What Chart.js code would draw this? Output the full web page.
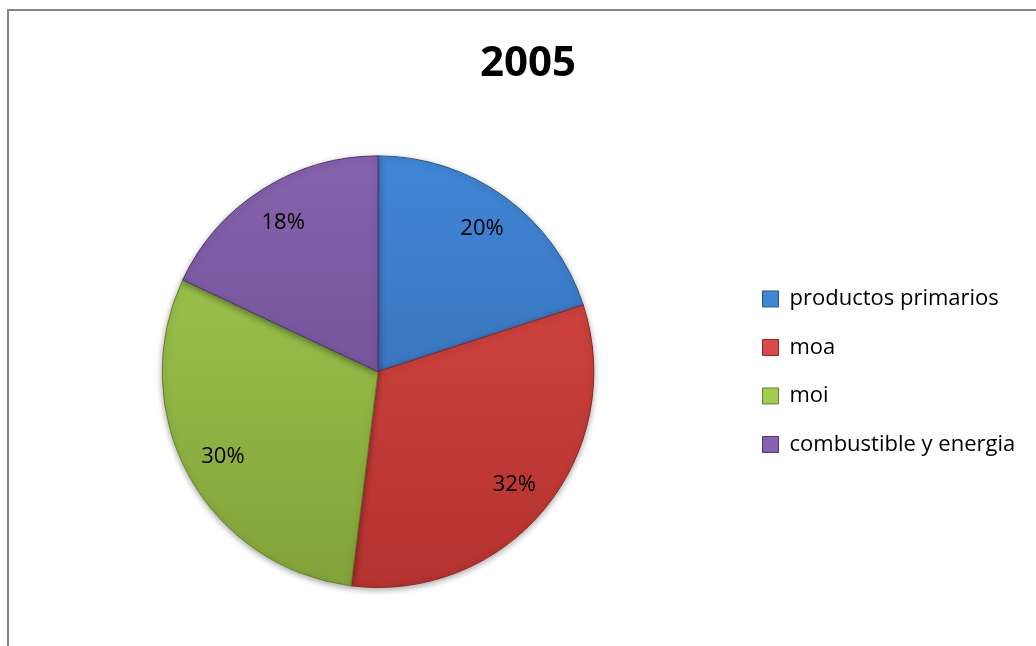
<!DOCTYPE html>
<html>
<head>
<meta charset="utf-8">
<script src="https://cdn.jsdelivr.net/npm/chart.js@4.4.1/dist/chart.umd.min.js"></script>
<style>
   html, body { margin: 0; padding: 0; background: #fff; }
   #frame {
      position: absolute; left: 0; top: 0; width: 1036px; height: 646px;
   }
   #frame:before {
      content: ""; position: absolute; left: 7px; top: 9px; right: 0; bottom: 0;
      border-left: 2px solid #868686; border-top: 2px solid #868686;
   }
   canvas { position: absolute; left: 0; top: 0; }
</style>
</head>
<body>
<div id="frame"><canvas id="pieChart" width="1036" height="646"></canvas></div>
<script>
const chartTitle = "2005";
const categories = ["productos primarios", "moa", "moi", "combustible y energia"];
const shares = [20, 32, 30, 18];

// light top / dark bottom, like the office bevel look
const lightColors = ["#4186d6", "#da4a46", "#a3cb52", "#8663ae"];
const darkColors = ["#3366a8", "#b3322f", "#82a23a", "#654688"];
const edgeColors = ["#2a5488", "#8c2724", "#66802c", "#4d3569"];

function sliceFill(context) {
   const chart = context.chart;
   const area = chart.chartArea;
   const i = context.dataIndex;
   if (!area) return lightColors[i];
   const g = chart.ctx.createLinearGradient(0, area.top, 0, area.bottom);
   g.addColorStop(0, lightColors[i]);
   g.addColorStop(1, darkColors[i]);
   return g;
}

// keep the legend column wide so the pie sits left of centre
const legendWidth = {
   id: "legendWidth",
   beforeUpdate(chart) {
      const lg = chart.legend;
      if (lg && !lg._wide) {
         const fit = lg.fit.bind(lg);
         lg.fit = function () {
            fit();
            this.width = 300;
         };
         lg._wide = true;
      }
   }
};

// soft shadow under the pie
const pieShadow = {
   id: "pieShadow",
   beforeDatasetsDraw(chart) {
      const ctx = chart.ctx;
      ctx.save();
      ctx.shadowColor = "rgba(0,0,0,0.35)";
      ctx.shadowBlur = 6;
      ctx.shadowOffsetY = 2;
   },
   afterDatasetsDraw(chart) {
      chart.ctx.restore();
   }
};

// percentage text inside each slice
const sliceLabels = {
   id: "sliceLabels",
   afterDatasetsDraw(chart) {
      const ctx = chart.ctx;
      const meta = chart.getDatasetMeta(0);
      const total = shares.reduce((a, b) => a + b, 0);
      ctx.save();
      ctx.font = "22px 'Open Sans', sans-serif";
      ctx.fillStyle = "#000";
      ctx.textAlign = "center";
      ctx.textBaseline = "middle";
      meta.data.forEach((arc, i) => {
         const mid = (arc.startAngle + arc.endAngle) / 2;
         const r = arc.outerRadius * 0.82;
         const x = arc.x + Math.cos(mid) * r;
         const y = arc.y + Math.sin(mid) * r;
         ctx.fillText(Math.round(shares[i] / total * 100) + "%", x, y);
      });
      ctx.restore();
   }
};

const ctx = document.getElementById("pieChart").getContext("2d");
const pieChart = new Chart(ctx, {
   type: "pie",
   data: {
      labels: categories,
      datasets: [
         {
            data: shares,
            backgroundColor: sliceFill,
            borderColor: edgeColors,
            borderWidth: 1
         }
      ]
   },
   options: {
      responsive: false,
      animation: false,
      layout: {
         padding: { top: 10, bottom: 58, left: 20, right: 0 }
      },
      plugins: {
         title: {
            display: true,
            text: chartTitle,
            color: "#000",
            font: { family: "'Open Sans', sans-serif", size: 42, weight: "bold" },
            padding: { top: 29, bottom: 66 }
         },
         legend: {
            position: "right",
            fullSize: false,
            labels: {
               color: "#000",
               boxWidth: 16,
               boxHeight: 16,
               padding: 26.5,
               font: { family: "'Open Sans', sans-serif", size: 22 },
               generateLabels(chart) {
                  return categories.map((c, i) => ({
                     text: c,
                     fillStyle: lightColors[i],
                     strokeStyle: edgeColors[i],
                     lineWidth: 1,
                     index: i
                  }));
               }
            }
         },
         tooltip: { enabled: false }
      }
   },
   plugins: [legendWidth, pieShadow, sliceLabels]
});
</script>
</body>
</html>
